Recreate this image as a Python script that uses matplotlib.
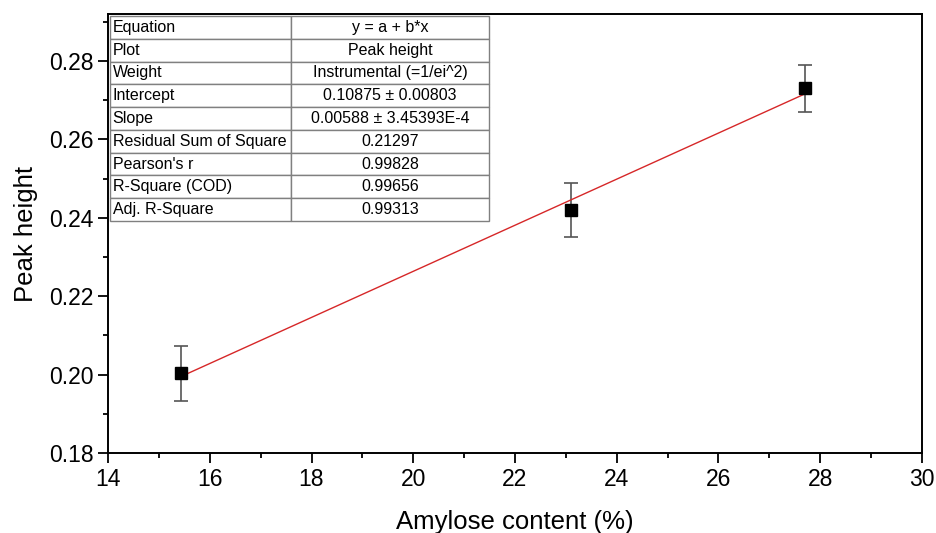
import matplotlib
matplotlib.use("Agg")
import matplotlib.pyplot as plt
import numpy as np
from matplotlib.ticker import MultipleLocator

plt.rcParams['font.family'] = ['Liberation Sans', 'DejaVu Sans']

# data
amylose = [15.43, 23.10, 27.71]
peak_height = [0.2003, 0.2420, 0.2730]
peak_err = [0.0070, 0.0070, 0.0060]

# fit parameters
intercept = 0.10875
slope = 0.00588

table_labels = ["Equation", "Plot", "Weight", "Intercept", "Slope",
                "Residual Sum of Square", "Pearson's r", "R-Square (COD)",
                "Adj. R-Square"]
table_values = ["y = a + b*x", "Peak height", "Instrumental (=1/ei^2)",
                "0.10875 \u00b1 0.00803", "0.00588 \u00b1 3.45393E-4",
                "0.21297", "0.99828", "0.99656", "0.99313"]

W, H = 937, 533
fig = plt.figure(figsize=(W / 100, H / 100), dpi=100)
ax = fig.add_axes([108 / W, (H - 453) / H, 814 / W, 439 / H])

ax.errorbar(amylose, peak_height, yerr=peak_err, fmt='none', ecolor='#555555',
            elinewidth=1.2, capsize=5, capthick=1.2, zorder=2)
ax.plot(amylose, peak_height, 's', color='black', markersize=8, zorder=3)

xf = np.array([min(amylose), max(amylose)])
ax.plot(xf, intercept + slope * xf, color='#d62728', lw=1.0, zorder=2.5)

ax.set_xlim(14, 30)
ax.set_ylim(0.18, 0.292)
ax.xaxis.set_major_locator(MultipleLocator(2))
ax.xaxis.set_minor_locator(MultipleLocator(1))
ax.yaxis.set_major_locator(MultipleLocator(0.02))
ax.yaxis.set_minor_locator(MultipleLocator(0.01))
ax.yaxis.set_major_formatter(matplotlib.ticker.FormatStrFormatter('%.2f'))
ax.tick_params(which='major', direction='out', length=7, width=1.3, labelsize=16.5,
               top=False, right=False)
ax.tick_params(which='minor', direction='out', length=3.5, width=1.3,
               top=False, right=False)
for s in ax.spines.values():
    s.set_linewidth(1.4)

ax.set_xlabel("Amylose content (%)", fontsize=18.5, labelpad=14)
ax.set_ylabel("Peak height", fontsize=18.5, labelpad=8)

cell_text = [[a, b] for a, b in zip(table_labels, table_values)]
x0 = (110 - 108) / 814
x1 = (489 - 108) / 814
xs = (291 - 108) / 814
y1 = 1 - (16 - 14) / 439
y0 = 1 - (221 - 14) / 439
tbl = ax.table(cellText=cell_text, bbox=[x0, y0, x1 - x0, y1 - y0],
               colWidths=[xs - x0, x1 - xs], cellLoc='center', zorder=5)
tbl.auto_set_font_size(False)
for (r, c), cell in tbl.get_celld().items():
    cell.set_edgecolor('#808080')
    cell.set_linewidth(1.0)
    cell.get_text().set_fontsize(11.5)
    cell.set_facecolor('white')
    if c == 0:
        cell.PAD = 0.015
        cell.get_text().set_horizontalalignment('left')
        cell._loc = 'left'

fig.savefig("out.png", dpi=100)
